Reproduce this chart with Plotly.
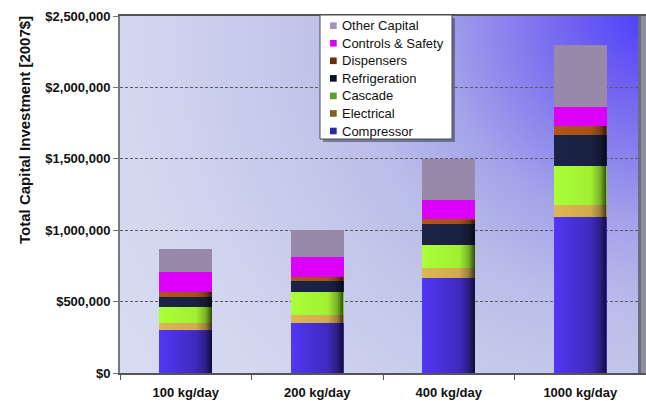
import base64
import plotly.graph_objects as go

# ---- data (2007 $) ----
categories = ["100 kg/day", "200 kg/day", "400 kg/day", "1000 kg/day"]
compressor = [298000, 350000, 667000, 1095000]
electrical = [55000, 57000, 68000, 82000]
cascade = [107000, 160000, 161000, 273000]
refrigeration = [75000, 75000, 147000, 219000]
dispensers = [35000, 32000, 33000, 61000]
controls_safety = [136000, 136000, 133000, 135000]
other_capital = [160000, 190000, 287000, 432000]
y_ticks = [0, 500000, 1000000, 1500000, 2000000, 2500000]

series_names = ["Compressor", "Electrical", "Cascade", "Refrigeration",
                "Dispensers", "Controls & Safety", "Other Capital"]
series_values = [compressor, electrical, cascade, refrigeration,
                 dispensers, controls_safety, other_capital]
bar_colors = ["#5236f6", "#deb653", "#aaff36", "#1b2347",
              "#b0551c", "#dc00fb", "#9889ab"]
legend_colors = ["#2c2aa0", "#7c6020", "#58a424", "#0b0f24",
                 "#6e2e0c", "#dc00f4", "#a294bc"]

BAR_W = 0.4
W, H = 646, 401
ML, MR, MT, MB = 120, 0, 16, 28
PW, PH = W - ML - MR, H - MT - MB
FONT = "Arial, Liberation Sans, sans-serif"


def px_x(x):
    return (x - ML) / PW


def px_y(y):
    return (H - MB - y) / PH


def svg_uri(svg):
    return "data:image/svg+xml;base64," + base64.b64encode(svg.encode()).decode()


fig = go.Figure()
for name, vals, col in zip(series_names, series_values, bar_colors):
    fig.add_trace(go.Bar(
        name=name, x=categories, y=vals, width=BAR_W,
        marker=dict(color=col, line=dict(width=0)),
        showlegend=False,
    ))

# plot-area background: radial wash toward the upper right corner
bg_svg = (
    '<svg xmlns="http://www.w3.org/2000/svg" width="526" height="357" '
    'viewBox="0 0 526 357" preserveAspectRatio="none">'
    '<defs><radialGradient id="g" gradientUnits="userSpaceOnUse" cx="526" cy="0" r="640">'
    '<stop offset="0" stop-color="#4f3ff9"/>'
    '<stop offset="0.16" stop-color="#7a70ef"/>'
    '<stop offset="0.32" stop-color="#a2a2ea"/>'
    '<stop offset="0.45" stop-color="#b8bce8"/>'
    '<stop offset="0.56" stop-color="#c2c6ea"/>'
    '<stop offset="0.8" stop-color="#d2d6ef"/>'
    '<stop offset="1" stop-color="#d9ddf2"/>'
    '</radialGradient></defs>'
    '<rect width="526" height="357" fill="url(#g)"/></svg>'
)
images = [dict(source=svg_uri(bg_svg), xref="paper", yref="paper", x=0, y=1,
               sizex=1, sizey=1, sizing="stretch", layer="below")]

# rounded shading on the right side of the lower stack segments
edge_svg = (
    '<svg xmlns="http://www.w3.org/2000/svg" width="100" height="100" '
    'viewBox="0 0 100 100" preserveAspectRatio="none">'
    '<defs><linearGradient id="s" x1="0" y1="0" x2="1" y2="0">'
    '<stop offset="0" stop-color="#000" stop-opacity="0"/>'
    '<stop offset="0.7" stop-color="#000" stop-opacity="0.06"/>'
    '<stop offset="0.88" stop-color="#000" stop-opacity="0.3"/>'
    '<stop offset="1" stop-color="#000" stop-opacity="0.72"/>'
    '</linearGradient></defs><rect width="100" height="100" fill="url(#s)"/></svg>'
)
comp_svg = (
    '<svg xmlns="http://www.w3.org/2000/svg" width="100" height="100" '
    'viewBox="0 0 100 100" preserveAspectRatio="none">'
    '<defs><linearGradient id="c" x1="0" y1="0" x2="1" y2="0">'
    '<stop offset="0" stop-color="#000" stop-opacity="0"/>'
    '<stop offset="0.85" stop-color="#000" stop-opacity="0.22"/>'
    '<stop offset="1" stop-color="#000" stop-opacity="0.25"/>'
    '</linearGradient></defs><rect width="100" height="100" fill="url(#c)"/></svg>'
)
for i in range(len(categories)):
    lower_top = sum(v[i] for v in series_values[:5])
    images.append(dict(source=svg_uri(edge_svg), xref="x", yref="y",
                       x=i - BAR_W / 2, xanchor="left", sizex=BAR_W,
                       y=lower_top, yanchor="top", sizey=lower_top,
                       sizing="stretch", layer="above"))
    images.append(dict(source=svg_uri(comp_svg), xref="x", yref="y",
                       x=i - BAR_W / 2, xanchor="left", sizex=BAR_W,
                       y=compressor[i], yanchor="top", sizey=compressor[i],
                       sizing="stretch", layer="above"))

shapes = [
    # frame shadow along the right edge
    dict(type="rect", xref="paper", yref="paper", x0=px_x(638), x1=px_x(641),
         y0=0, y1=1, fillcolor="#6b6b86", line=dict(width=0), layer="above"),
    dict(type="rect", xref="paper", yref="paper", x0=px_x(641), x1=1,
         y0=0, y1=1, fillcolor="#8e8e9c", line=dict(width=0), layer="above"),
]

# legend box with drop shadow
LX0, LX1, LY0, LY1 = 320, 452, 15, 139
shapes.append(dict(type="rect", xref="paper", yref="paper",
                   x0=px_x(LX0 + 3), x1=px_x(LX1 + 3), y0=px_y(LY1 + 3), y1=px_y(LY0 + 3),
                   fillcolor="rgba(60,60,90,0.55)", line=dict(width=0), layer="above"))
shapes.append(dict(type="rect", xref="paper", yref="paper",
                   x0=px_x(LX0), x1=px_x(LX1), y0=px_y(LY1), y1=px_y(LY0),
                   fillcolor="white", line=dict(color="#4a4a4a", width=1), layer="above"))

annotations = []
ROW0, ROW_STEP = 25.7, 17.55
for k, idx in enumerate(reversed(range(len(series_names)))):
    cy = ROW0 + ROW_STEP * k
    shapes.append(dict(type="rect", xref="paper", yref="paper",
                       x0=px_x(330), x1=px_x(336.7), y0=px_y(cy + 3.3), y1=px_y(cy - 3.3),
                       fillcolor=legend_colors[idx], line=dict(width=0), layer="above"))
    annotations.append(dict(xref="paper", yref="paper", x=px_x(340), y=px_y(cy),
                            xanchor="left", yanchor="middle", showarrow=False,
                            text=series_names[idx],
                            font=dict(family=FONT, size=13, color="#111")))

# y-axis title, set a little above the plot's vertical centre
annotations.append(dict(xref="paper", yref="paper", x=px_x(24), y=px_y(130),
                        xanchor="center", yanchor="middle", showarrow=False,
                        textangle=-90, text="Total Capital Investment [2007$]",
                        font=dict(family=FONT, size=15, color="#111", weight="bold")))

fig.update_layout(
    width=W, height=H,
    margin=dict(l=ML, r=MR, t=MT, b=MB, pad=0),
    barmode="stack",
    paper_bgcolor="white",
    plot_bgcolor="#c8cced",
    images=images,
    shapes=shapes,
    annotations=annotations,
    showlegend=False,
    xaxis=dict(
        type="category", tickson="boundaries", ticks="outside", ticklen=5,
        tickcolor="#555", tickwidth=1, ticklabelstandoff=7,
        showline=True, linecolor="#555", linewidth=1.5, mirror=True,
        showgrid=False,
        tickfont=dict(family=FONT, size=13, color="#111", weight="bold"),
    ),
    yaxis=dict(
        range=[0, 2500000], tickvals=y_ticks, tickformat="$,.0f",
        ticks="outside", ticklen=5, tickcolor="#777",
        showline=True, linecolor="#7a7a7a", linewidth=2,
        showgrid=True, gridcolor="#5a5a6a", gridwidth=1, griddash="3px,2px",
        zeroline=False,
        tickfont=dict(family=FONT, size=13, color="#111", weight="bold"),
    ),
)

fig.write_html("out.html")
